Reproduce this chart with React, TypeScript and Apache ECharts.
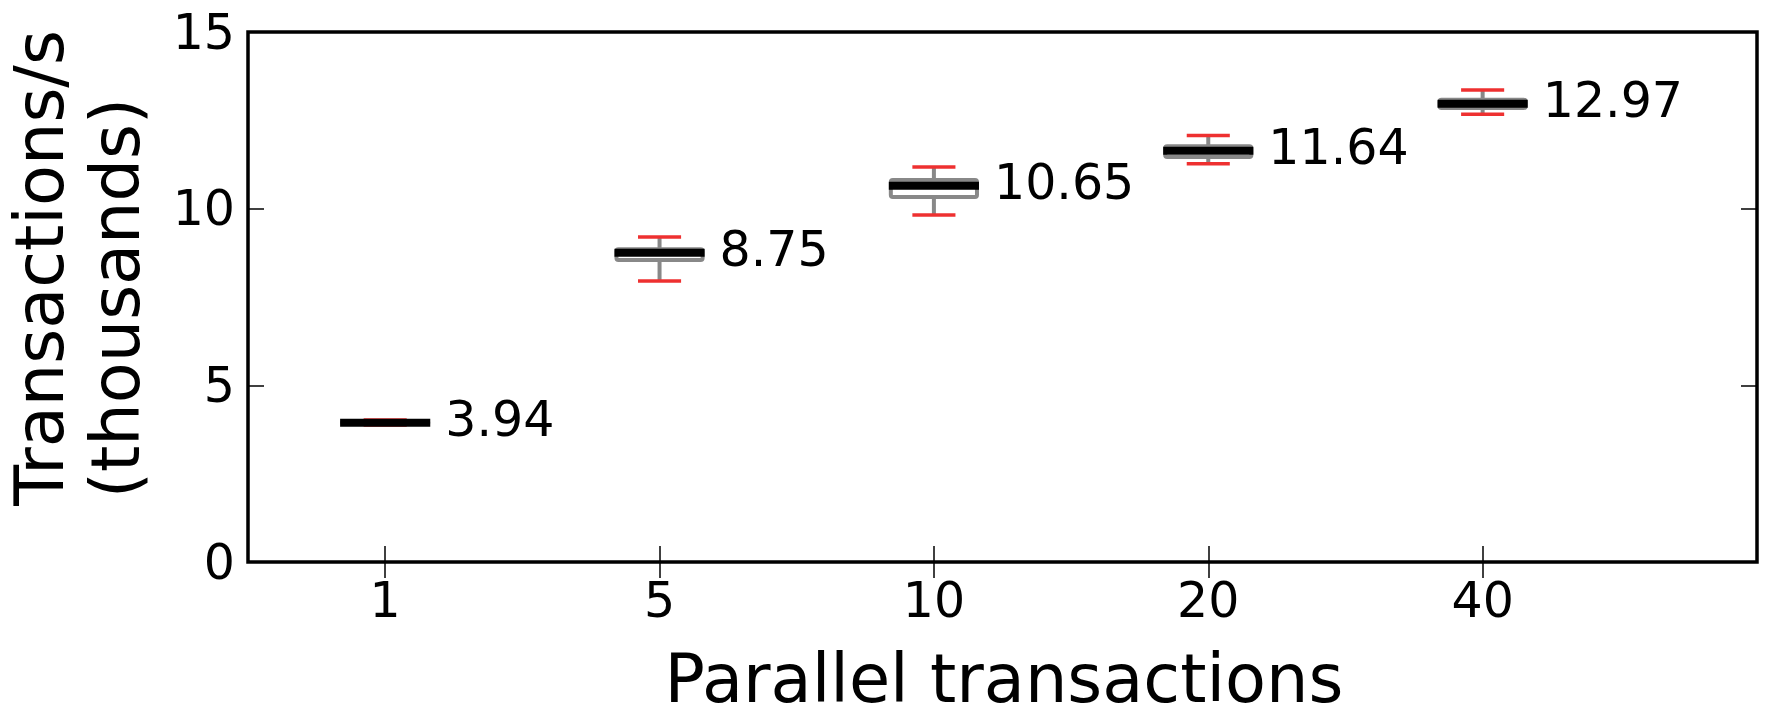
import React, { useEffect, useRef } from "react";
import * as echarts from "echarts";

const categories = ["1", "5", "10", "20", "40"];
const mins = [3.88, 7.95, 9.82, 11.27, 12.67];
const q1s = [3.91, 8.55, 10.33, 11.46, 12.85];
const medians = [3.94, 8.75, 10.65, 11.64, 12.97];
const q3s = [3.97, 8.85, 10.81, 11.77, 13.08];
const maxs = [4.02, 9.2, 11.18, 12.07, 13.36];
const medianLabels = ["3.94", "8.75", "10.65", "11.64", "12.97"];
const yTicks = [0, 5, 10, 15];

const FONT = "DejaVu Sans";

export default function App() {
  const ref = useRef<HTMLDivElement>(null);
  useEffect(() => {
    if (!ref.current) return;
    const chart = echarts.init(ref.current, undefined, { renderer: "svg" });
    const positions = categories.map((_, i) => i + 1);
    const data = categories.map((_, i) => [
      positions[i],
      mins[i],
      q1s[i],
      medians[i],
      q3s[i],
      maxs[i],
      i,
    ]);
    const tickLine = { show: true, inside: true, length: 16, lineStyle: { color: "#000", width: 1.5 } };
    const option: any = {
      animation: false,
      backgroundColor: "#fff",
      grid: {
        left: 248,
        right: 8,
        top: 32,
        bottom: 146,
        show: true,
        borderColor: "#000",
        borderWidth: 3.5,
        containLabel: false,
      },
      xAxis: [
        {
          type: "value",
          min: 0.5,
          max: 6,
          axisLine: { show: false },
          splitLine: { show: false },
          axisTick: { ...tickLine, customValues: positions },
          axisLabel: {
            customValues: positions,
            formatter: (v: number) => categories[Math.round(v) - 1] ?? "",
            fontFamily: FONT,
            fontSize: 49,
            color: "#000",
            margin: 14,
          },
        },
        {
          type: "value",
          position: "top",
          min: 0.5,
          max: 6,
          axisLine: { show: false },
          splitLine: { show: false },
          axisTick: { ...tickLine, customValues: positions },
          axisLabel: { show: false },
        },
      ],
      yAxis: [
        {
          type: "value",
          min: 0,
          max: 15,
          interval: 5,
          axisLine: { show: false },
          splitLine: { show: false },
          axisTick: tickLine,
          axisLabel: {
            fontFamily: FONT,
            fontSize: 49,
            color: "#000",
            margin: 13,
            formatter: (v: number) => (yTicks.includes(v) ? String(v) : ""),
          },
        },
        {
          type: "value",
          position: "right",
          min: 0,
          max: 15,
          interval: 5,
          axisLine: { show: false },
          splitLine: { show: false },
          axisTick: tickLine,
          axisLabel: { show: false },
        },
      ],
      series: [
        {
          type: "custom",
          xAxisIndex: 0,
          yAxisIndex: 0,
          encode: { x: 0, y: [1, 2, 3, 4, 5] },
          data,
          renderItem: (params: any, api: any) => {
            const x = api.value(0);
            const idx = api.value(6);
            const pMin = api.coord([x, api.value(1)]);
            const pQ1 = api.coord([x, api.value(2)]);
            const pMed = api.coord([x, api.value(3)]);
            const pQ3 = api.coord([x, api.value(4)]);
            const pMax = api.coord([x, api.value(5)]);
            const bw = api.size([0.314, 0])[0];
            const half = bw / 2;
            const capHalf = half / 2;
            const cx = pMed[0];
            const gray = "#888888";
            const red = "#ee3030";
            return {
              type: "group",
              children: [
                {
                  type: "line",
                  shape: { x1: cx, y1: pQ3[1], x2: cx, y2: pMax[1] },
                  style: { stroke: gray, lineWidth: 4 },
                },
                {
                  type: "line",
                  shape: { x1: cx, y1: pQ1[1], x2: cx, y2: pMin[1] },
                  style: { stroke: gray, lineWidth: 4 },
                },
                {
                  type: "rect",
                  shape: { x: cx - half, y: pQ3[1], width: bw, height: pQ1[1] - pQ3[1], r: 2 },
                  style: { stroke: gray, lineWidth: 4, fill: "none", lineJoin: "round" },
                },
                {
                  type: "line",
                  shape: { x1: cx - capHalf, y1: pMax[1], x2: cx + capHalf, y2: pMax[1] },
                  style: { stroke: red, lineWidth: 3.5 },
                },
                {
                  type: "line",
                  shape: { x1: cx - capHalf, y1: pMin[1], x2: cx + capHalf, y2: pMin[1] },
                  style: { stroke: red, lineWidth: 3.5 },
                },
                {
                  type: "line",
                  shape: { x1: cx - half - 2, y1: pMed[1], x2: cx + half + 2, y2: pMed[1] },
                  style: { stroke: "#000", lineWidth: 8 },
                },
                {
                  type: "text",
                  x: cx + half + 17,
                  y: pMed[1] - 3,
                  style: {
                    text: medianLabels[idx],
                    fontFamily: FONT,
                    fontSize: 49,
                    fill: "#000",
                    align: "left",
                    verticalAlign: "middle",
                  },
                },
              ],
            };
          },
        },
      ],
      graphic: [
        {
          type: "text",
          x: 1004,
          y: 679,
          style: {
            text: "Parallel transactions",
            fontFamily: FONT,
            fontSize: 67,
            lineHeight: 50,
            fill: "#000",
            align: "center",
            verticalAlign: "middle",
          },
        },
        {
          type: "text",
          x: 40,
          y: 268,
          rotation: Math.PI / 2,
          style: {
            text: "Transactions/s",
            fontFamily: FONT,
            fontSize: 67,
            fill: "#000",
            align: "center",
            verticalAlign: "middle",
          },
        },
        {
          type: "text",
          x: 116,
          y: 298,
          rotation: Math.PI / 2,
          style: {
            text: "(thousands)",
            fontFamily: FONT,
            fontSize: 67,
            fill: "#000",
            align: "center",
            verticalAlign: "middle",
          },
        },
      ],
    };
    chart.setOption(option);
    return () => chart.dispose();
  }, []);
  return (
    <div
      ref={ref}
      style={{ position: "fixed", left: 0, top: 0, width: 1765, height: 708, background: "#fff" }}
    />
  );
}
